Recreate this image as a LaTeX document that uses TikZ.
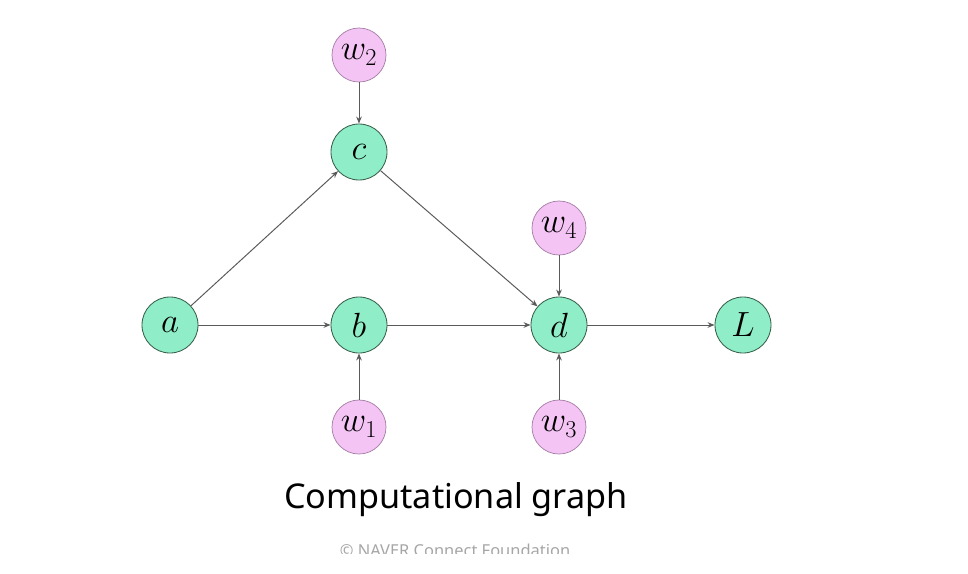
\documentclass[tikz,border=0pt]{standalone}
\usepackage{fontspec}
\usetikzlibrary{arrows.meta}
\newfontfamily\capfont{Noto Sans}
\definecolor{varfill}{RGB}{143,238,200}
\definecolor{vardraw}{RGB}{55,95,75}
\definecolor{wfill}{RGB}{244,196,244}
\definecolor{wdraw}{RGB}{165,125,165}
\definecolor{edgegray}{RGB}{90,90,90}
\begin{document}
\begin{tikzpicture}[
        x=0.025cm, y=-0.025cm,
        var/.style={circle, draw=vardraw, line width=0.6pt, fill=varfill, minimum size=1.4cm, inner sep=0pt, font=\fontsize{30}{36}\selectfont},
        weight/.style={circle, draw=wdraw, line width=0.5pt, fill=wfill, minimum size=1.35cm, inner sep=0pt, font=\fontsize{27}{32}\selectfont},
        arrow/.style={-{Stealth[length=5pt, width=4pt]}, edgegray, line width=0.7pt}
    ]
        \useasboundingbox (0,0) rectangle (968,573);

        % Variable nodes
        \node[var] (a) at (170,325) {$a$};
        \node[var] (b) at (359,325) {$b$};
        \node[var] (c) at (359,152) {$c$};
        \node[var] (d) at (559,325) {$d$};
        \node[var] (L) at (743,325) {$L$};

        % Weight nodes
        \node[weight] (w2) at (359,55) {$w_2$};
        \node[weight] (w1) at (359,427) {$w_1$};
        \node[weight] (w4) at (559,228) {$w_4$};
        \node[weight] (w3) at (559,427) {$w_3$};

        % Edges
        \draw[arrow] (a) -- (c);
        \draw[arrow] (a) -- (b);
        \draw[arrow] (c) -- (d);
        \draw[arrow] (b) -- (d);
        \draw[arrow] (d) -- (L);

        \draw[arrow] (w2) -- (c);
        \draw[arrow] (w1) -- (b);
        \draw[arrow] (w4) -- (d);
        \draw[arrow] (w3) -- (d);

        % Caption
        \node[font=\capfont\fontsize{24.3}{29}\selectfont] (caption) at (456,500) {Computational graph};

        % Footer (cut off at the bottom)
        \begin{scope}
            \clip (0,0) rectangle (968,553);
            \node[font=\capfont\fontsize{11.7}{14}\selectfont, text=gray!70] (footer) at (455,550) {© NAVER Connect Foundation};
        \end{scope}
\end{tikzpicture}
\end{document}
